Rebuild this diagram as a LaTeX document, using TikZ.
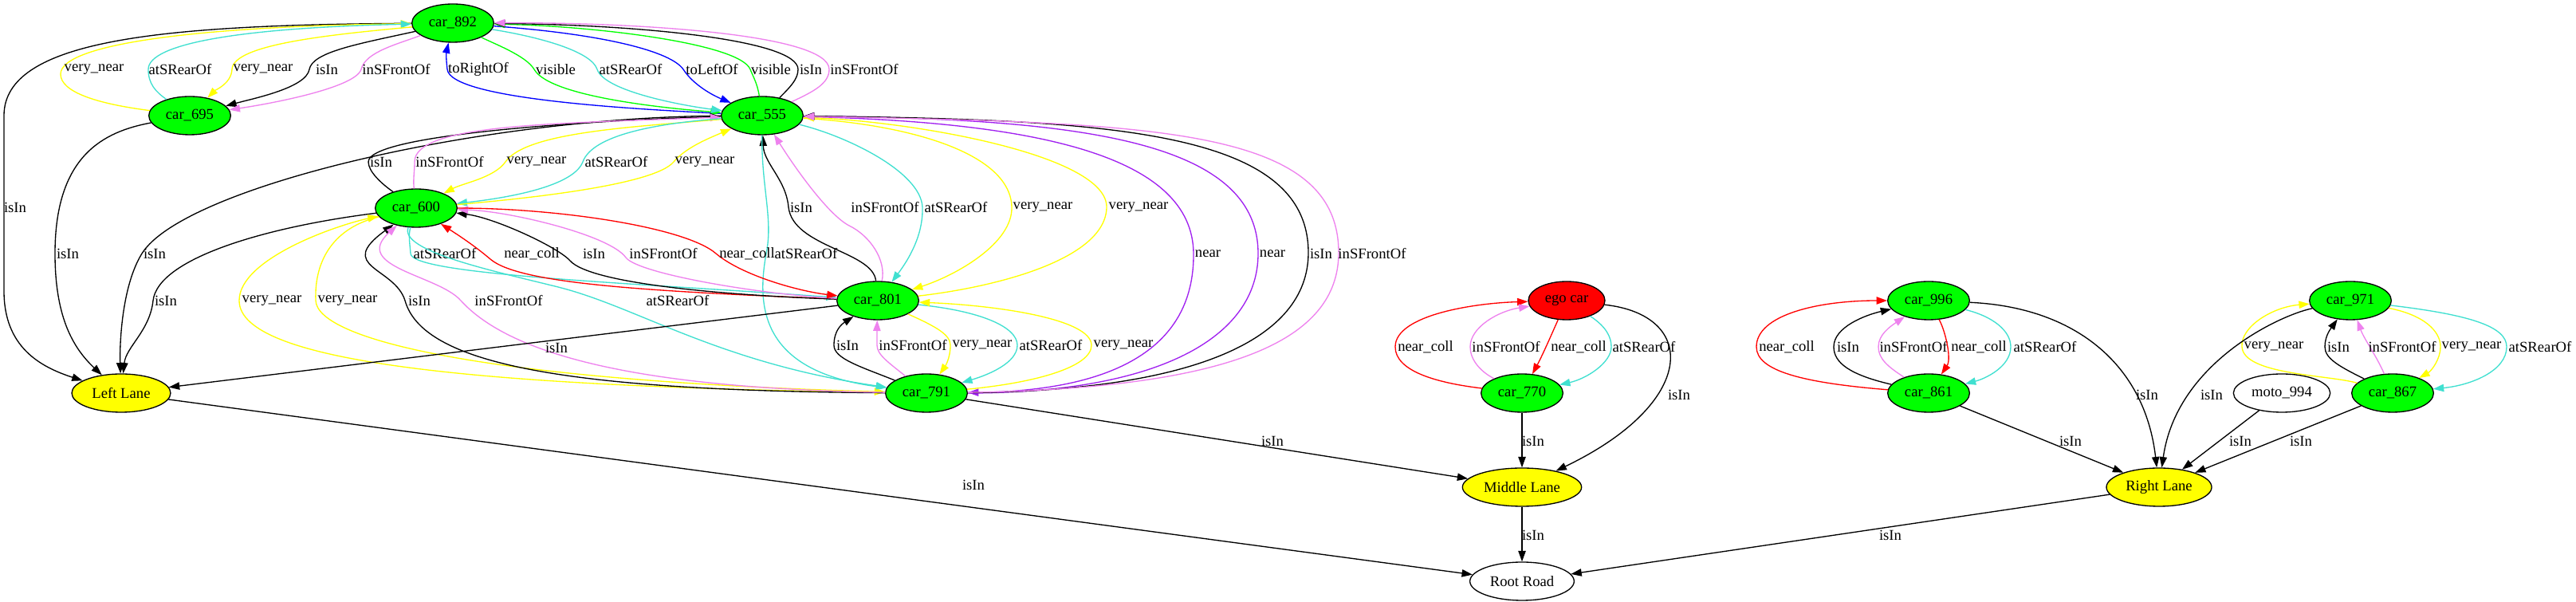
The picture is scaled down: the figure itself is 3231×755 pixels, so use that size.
\documentclass[tikz,border=0pt]{standalone}
\usepackage{fontspec}
\setmainfont{Liberation Serif}
\usepackage{tikz}
\usetikzlibrary{shapes.geometric}
\usetikzlibrary{arrows.meta}
\usepackage{xcolor}

\definecolor{gvgreen}{HTML}{00FF00}
\definecolor{gvyellow}{HTML}{FFFF00}
\definecolor{gvred}{HTML}{FF0000}
\definecolor{gvcyan}{HTML}{40E0D0}
\definecolor{gvviolet}{HTML}{EE82EE}
\definecolor{gvpurple}{HTML}{A020F0}
\definecolor{gvblue}{HTML}{0000FF}

\begin{document}
\begin{tikzpicture}[x=0.75pt, y=0.75pt,
  every node/.style={font=\fontsize{14}{16}\selectfont},
  car/.style={ellipse, draw, line width=1pt, fill=gvgreen, minimum width=77pt, minimum height=36pt, inner sep=0pt},
  lane/.style={ellipse, draw, line width=1pt, fill=gvyellow, minimum height=36pt, inner sep=0pt},
  other/.style={ellipse, draw, line width=1pt, fill=white, minimum height=36pt, inner sep=0pt},
  rel/.style={-{Triangle[length=10pt,width=7pt]}, line width=1pt},
  lbl/.style={text=black, inner sep=0pt}]

\path[use as bounding box, fill=white] (0,0) rectangle (3231,755);

% nodes
\node[car] (c892) at (568,726) {car\_892};
\node[car] (c695) at (238,610) {car\_695};
\node[car] (c555) at (956,610) {car\_555};
\node[car] (c600) at (522,494) {car\_600};
\node[car] (c801) at (1101,378) {car\_801};
\node[car] (c791) at (1162,262) {car\_791};
\node[lane, minimum width=93pt] (lleft) at (152,262) {Left Lane};
\node[car, fill=gvred, minimum width=72pt] (ego) at (1965,378) {ego car};
\node[car] (c770) at (1909,262) {car\_770};
\node[lane, minimum width=112pt] (lmid) at (1909,144) {Middle Lane};
\node[other, minimum width=98pt] (root) at (1909,26) {Root Road};
\node[car] (c996) at (2419,378) {car\_996};
\node[car] (c861) at (2419,262) {car\_861};
\node[lane, minimum width=99pt] (lright) at (2708,144) {Right Lane};
\node[car] (c971) at (2948,378) {car\_971};
\node[car] (c867) at (3001,262) {car\_867};
\node[other, minimum width=91pt] (moto) at (2862,262) {moto\_994};

% car_892 / car_695
\draw[rel] (c892) .. controls (200,724) and (5,705) .. (5,610) -- (5,390) .. controls (5,320) and (50,295) .. (lleft) node[lbl] at (19,495) {isIn};
\draw[rel, gvyellow] (c695) .. controls (120,625) and (76,640) .. (76,662) .. controls (76,700) and (250,722) .. (c892) node[lbl] at (118,668) {very\_near};
\draw[rel, gvcyan] (c695) .. controls (195,640) and (186,650) .. (186,668) .. controls (186,700) and (300,720) .. (c892) node[lbl] at (226,668) {atSRearOf};
\draw[rel, gvyellow] (c892) .. controls (420,712) and (292,700) .. (291,668) .. controls (290,650) and (270,642) .. (c695) node[lbl] at (330,668) {very\_near};
\draw[rel] (c892) .. controls (450,700) and (392,690) .. (388,668) .. controls (384,645) and (320,632) .. (c695) node[lbl] at (410,668) {isIn};
\draw[rel, gvviolet] (c892) .. controls (500,700) and (458,690) .. (453,668) .. controls (446,645) and (340,625) .. (c695) node[lbl] at (497,668) {inSFrontOf};
\draw[rel, gvblue] (c555) .. controls (800,618) and (565,630) .. (561,668) .. controls (559,685) and (560,690) .. (c892) node[lbl] at (600,668) {toRightOf};
\draw[rel, gvgreen] (c892) .. controls (620,700) and (660,685) .. (670,668) .. controls (690,632) and (850,618) .. (c555) node[lbl] at (697,668) {visible};
\draw[rel, gvcyan] (c892) .. controls (680,708) and (742,690) .. (749,668) .. controls (758,640) and (860,622) .. (c555) node[lbl] at (791,668) {atSRearOf};
\draw[rel, gvblue] (c892) .. controls (760,712) and (842,690) .. (857,668) .. controls (870,648) and (895,635) .. (c555) node[lbl] at (893,668) {toLeftOf};
\draw[rel, gvgreen] (c555) .. controls (950,650) and (945,658) .. (941,668) .. controls (928,700) and (750,722) .. (c892) node[lbl] at (967,668) {visible};
\draw[rel] (c555) .. controls (990,645) and (1001,655) .. (1001,668) .. controls (1001,705) and (800,724) .. (c892) node[lbl] at (1017,668) {isIn};
\draw[rel, gvviolet] (c555) .. controls (1020,640) and (1040,650) .. (1040,668) .. controls (1040,712) and (800,727) .. (c892) node[lbl] at (1084,668) {inSFrontOf};

% lanes on the left
\draw[rel] (c695) .. controls (130,590) and (69,560) .. (69,437) .. controls (69,360) and (90,320) .. (lleft) node[lbl] at (85,437) {isIn};
\draw[rel] (c555) .. controls (600,608) and (230,520) .. (178,437) .. controls (152,395) and (150,320) .. (lleft) node[lbl] at (194,437) {isIn};
\draw[rel] (c600) .. controls (330,470) and (198,430) .. (192,378) .. controls (188,340) and (158,320) .. (lleft) node[lbl] at (208,378) {isIn};

% car_555 / car_600
\draw[rel] (c600) .. controls (478,525) and (462,540) .. (462,552) .. controls (462,590) and (800,606) .. (c555) node[lbl] at (478,552) {isIn};
\draw[rel, gvviolet] (c600) .. controls (518,530) and (520,540) .. (520,552) .. controls (520,600) and (700,600) .. (c555) node[lbl] at (564,552) {inSFrontOf};
\draw[rel, gvyellow] (c555) .. controls (800,596) and (660,590) .. (634,552) .. controls (620,532) and (580,525) .. (c600) node[lbl] at (673,552) {very\_near};
\draw[rel, gvcyan] (c555) .. controls (820,600) and (743,585) .. (731,552) .. controls (718,518) and (620,505) .. (c600) node[lbl] at (773,552) {atSRearOf};
\draw[rel, gvyellow] (c600) .. controls (650,505) and (820,522) .. (845,552) .. controls (860,570) and (890,582) .. (c555) node[lbl] at (884,552) {very\_near};

% car_555 / car_801 / car_791
\draw[rel] (c801) .. controls (1095,440) and (995,445) .. (989,495) .. controls (986,530) and (958,550) .. (c555) node[lbl] at (1005,495) {isIn};
\draw[rel, gvviolet] (c801) .. controls (1112,430) and (1090,460) .. (1065,472) .. controls (1040,485) and (1000,540) .. (c555) node[lbl] at (1110,495) {inSFrontOf};
\draw[rel, gvcyan] (c555) .. controls (1060,585) and (1155,540) .. (1157,495) .. controls (1158,460) and (1140,430) .. (c801) node[lbl] at (1199,495) {atSRearOf};
\draw[rel, gvyellow] (c555) .. controls (1150,598) and (1268,560) .. (1269,495) .. controls (1270,450) and (1200,410) .. (c801) node[lbl] at (1308,495) {very\_near};
\draw[rel, gvyellow] (c801) .. controls (1250,395) and (1387,430) .. (1388,495) .. controls (1389,560) and (1150,602) .. (c555) node[lbl] at (1428,495) {very\_near};
\draw[rel, gvpurple] (c555) .. controls (1300,602) and (1496,560) .. (1497,437) .. controls (1498,320) and (1400,265) .. (c791) node[lbl] at (1515,437) {near};
\draw[rel, gvpurple] (c791) .. controls (1450,262) and (1578,330) .. (1578,437) .. controls (1578,580) and (1350,606) .. (c555) node[lbl] at (1596,437) {near};
\draw[rel] (c791) .. controls (1500,265) and (1640,330) .. (1641,437) .. controls (1642,590) and (1400,605) .. (c555) node[lbl] at (1657,437) {isIn};
\draw[rel, gvviolet] (c791) .. controls (1550,268) and (1678,330) .. (1679,437) .. controls (1680,595) and (1450,601) .. (c555) node[lbl] at (1721,437) {inSFrontOf};
\draw[rel, gvcyan] (c555) .. controls (955,520) and (970,480) .. (961,437) .. controls (950,375) and (950,290) .. (c791) node[lbl] at (1011,437) {atSRearOf};

% car_600 / car_801
\draw[rel, gvcyan] (c600) .. controls (512,460) and (514,450) .. (515,437) .. controls (516,410) and (800,400) .. (c801) node[lbl] at (558,437) {atSRearOf};
\draw[rel, gvred] (c801) .. controls (800,390) and (650,400) .. (615,430) .. controls (595,447) and (575,460) .. (c600) node[lbl] at (667,437) {near\_coll};
\draw[rel] (c801) .. controls (900,385) and (740,400) .. (715,428) .. controls (700,445) and (620,482) .. (c600) node[lbl] at (745,437) {isIn};
\draw[rel, gvviolet] (c801) .. controls (950,386) and (800,412) .. (785,432) .. controls (765,460) and (640,490) .. (c600) node[lbl] at (832,437) {inSFrontOf};
\draw[rel, gvred] (c600) .. controls (700,494) and (860,470) .. (898,437) .. controls (930,410) and (1000,390) .. (c801) node[lbl] at (937,437) {near\_coll};

% car_600 / car_791
\draw[rel, gvyellow] (c791) .. controls (600,270) and (300,300) .. (300,378) .. controls (300,430) and (420,472) .. (c600) node[lbl] at (341,378) {very\_near};
\draw[rel, gvyellow] (c600) .. controls (420,470) and (394,430) .. (396,378) .. controls (398,330) and (600,278) .. (c791) node[lbl] at (436,378) {very\_near};
\draw[rel] (c791) .. controls (700,265) and (530,300) .. (508,378) .. controls (495,420) and (420,420) .. (c600) node[lbl] at (526,378) {isIn};
\draw[rel, gvviolet] (c791) .. controls (800,268) and (640,310) .. (578,378) .. controls (550,410) and (440,420) .. (c600) node[lbl] at (638,378) {inSFrontOf};
\draw[rel, gvcyan] (c600) .. controls (500,440) and (620,415) .. (700,395) .. controls (800,370) and (900,300) .. (c791) node[lbl] at (850,378) {atSRearOf};

% car_801 / car_791
\draw[rel] (c791) .. controls (1080,295) and (1046,305) .. (1046,322) .. controls (1046,340) and (1055,348) .. (c801) node[lbl] at (1063,322) {isIn};
\draw[rel, gvviolet] (c791) .. controls (1115,300) and (1100,310) .. (1100,322) .. controls (1100,335) and (1100,345) .. (c801) node[lbl] at (1145,322) {inSFrontOf};
\draw[rel, gvyellow] (c801) .. controls (1175,345) and (1192,335) .. (1192,322) .. controls (1192,305) and (1185,295) .. (c791) node[lbl] at (1232,322) {very\_near};
\draw[rel, gvcyan] (c801) .. controls (1230,365) and (1276,345) .. (1276,322) .. controls (1276,300) and (1240,285) .. (c791) node[lbl] at (1318,322) {atSRearOf};
\draw[rel, gvyellow] (c791) .. controls (1300,275) and (1369,295) .. (1369,322) .. controls (1369,355) and (1250,372) .. (c801) node[lbl] at (1409,322) {very\_near};

% lanes and road
\draw[rel] (c801) -- (lleft) node[lbl] at (698,319) {isIn};
\draw[rel] (c791) -- (lmid) node[lbl] at (1596,202) {isIn};
\draw[rel] (lleft) -- (root) node[lbl] at (1221,147) {isIn};
\draw[rel] (c770) -- (lmid) node[lbl] at (1923,202) {isIn};
\draw[rel] (ego) .. controls (2130,360) and (2130,250) .. (lmid) node[lbl] at (2106,260) {isIn};
\draw[rel] (lmid) -- (root) node[lbl] at (1923,84) {isIn};
\draw[rel] (lright) -- (root) node[lbl] at (2371,84) {isIn};

% ego car / car_770
\draw[rel, gvred] (c770) .. controls (1800,275) and (1750,290) .. (1750,320) .. controls (1750,360) and (1850,375) .. (ego) node[lbl] at (1788,320) {near\_coll};
\draw[rel, gvviolet] (c770) .. controls (1855,290) and (1844,305) .. (1844,320) .. controls (1844,345) and (1880,365) .. (ego) node[lbl] at (1889,320) {inSFrontOf};
\draw[rel, gvred] (ego) .. controls (1948,340) and (1935,310) .. (c770) node[lbl] at (1980,320) {near\_coll};
\draw[rel, gvcyan] (ego) .. controls (2015,345) and (2021,332) .. (2021,320) .. controls (2021,300) and (1990,280) .. (c770) node[lbl] at (2062,320) {atSRearOf};

% car_996 / car_861
\draw[rel, gvred] (c861) .. controls (2260,275) and (2203,290) .. (2203,320) .. controls (2203,360) and (2280,378) .. (c996) node[lbl] at (2241,320) {near\_coll};
\draw[rel] (c861) .. controls (2320,285) and (2300,300) .. (2300,320) .. controls (2300,345) and (2340,360) .. (c996) node[lbl] at (2318,320) {isIn};
\draw[rel, gvviolet] (c861) .. controls (2368,295) and (2356,305) .. (2356,320) .. controls (2356,335) and (2370,345) .. (c996) node[lbl] at (2400,320) {inSFrontOf};
\draw[rel, gvred] (c996) .. controls (2440,340) and (2448,305) .. (c861) node[lbl] at (2482,320) {near\_coll};
\draw[rel, gvcyan] (c996) .. controls (2500,358) and (2522,340) .. (2522,320) .. controls (2522,295) and (2490,280) .. (c861) node[lbl] at (2565,320) {atSRearOf};
\draw[rel] (c996) .. controls (2600,370) and (2690,300) .. (lright) node[lbl] at (2693,260) {isIn};
\draw[rel] (c861) -- (lright) node[lbl] at (2597,202) {isIn};

% car_971 / car_867
\draw[rel, gvyellow] (c867) .. controls (2920,285) and (2814,285) .. (2812,320) .. controls (2810,345) and (2850,370) .. (c971) node[lbl] at (2852,320) {very\_near};
\draw[rel] (c971) .. controls (2860,360) and (2730,300) .. (lright) node[lbl] at (2774,260) {isIn};
\draw[rel] (c867) .. controls (2935,295) and (2916,305) .. (2916,320) .. controls (2916,335) and (2925,345) .. (c971) node[lbl] at (2933,320) {isIn};
\draw[rel, gvviolet] (c867) .. controls (2980,310) and (2965,330) .. (c971) node[lbl] at (3013,320) {inSFrontOf};
\draw[rel, gvyellow] (c971) .. controls (3040,360) and (3061,340) .. (3061,320) .. controls (3061,305) and (3050,290) .. (c867) node[lbl] at (3100,320) {very\_near};
\draw[rel, gvcyan] (c971) .. controls (3100,360) and (3144,345) .. (3144,320) .. controls (3144,290) and (3100,272) .. (c867) node[lbl] at (3186,320) {atSRearOf};
\draw[rel] (moto) -- (lright) node[lbl] at (2810,202) {isIn};
\draw[rel] (c867) -- (lright) node[lbl] at (2886,202) {isIn};
\end{tikzpicture}
\end{document}
